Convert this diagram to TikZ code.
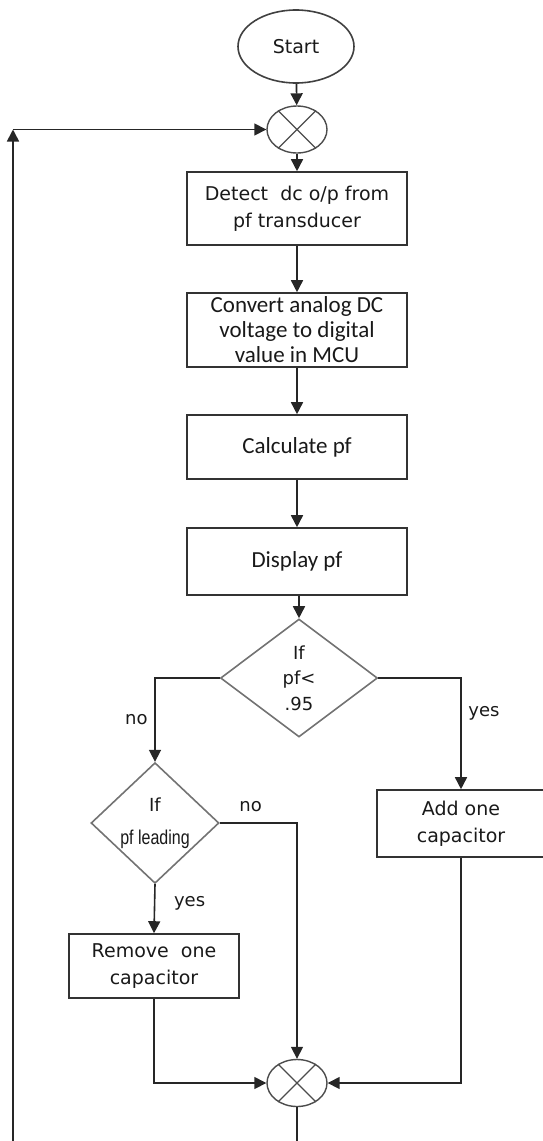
\documentclass[tikz,border=0pt]{standalone}
\usepackage{fontspec}
\setmainfont{DejaVu Sans}
\newfontfamily\calfont{Carlito}
\newfontfamily\narrowfont[FakeStretch=0.8]{Liberation Sans}
\usepackage{tikz}
\usetikzlibrary{positioning, arrows.meta, shapes.geometric, calc}

\begin{document}
\begin{tikzpicture}[
    x=0.5pt, y=-0.5pt,
    box/.style={draw=black!80, line width=0.8pt, minimum width=110pt, align=center,
        text=black!90, inner sep=1pt, font=\fontsize{9.5}{13.5}\selectfont},
    calbox/.style={box, font=\calfont\fontsize{11.5}{12.5}\selectfont},
    decision/.style={diamond, draw=black!55, line width=0.8pt, inner sep=0pt, align=center,
        text=black!90, font=\fontsize{9}{12.75}\selectfont},
    terminal/.style={ellipse, draw=black!75, line width=0.8pt, inner sep=0pt,
        text=black!90, font=\fontsize{9.5}{11}\selectfont},
    junction/.style={ellipse, draw=black!70, line width=0.7pt, minimum width=30pt,
        minimum height=23.5pt, inner sep=0pt},
    arr/.style={-{Triangle[length=6pt,width=6pt]}, line width=0.8pt, black!85},
    lbl/.style={font=\fontsize{9}{11}\selectfont, text=black!90},
]
\useasboundingbox (0,0) rectangle (542,1141);

% main column
\node[terminal, minimum width=58pt, minimum height=36.5pt] (start) at (296,46.5) {Start};
\node[junction] (sum1) at (297,129.5) {};
\node[box, minimum height=36.5pt] (detect) at (297,208.5) {Detect\ \ dc o/p from\\pf transducer};
\node[calbox, minimum height=37pt] (convert) at (297,330) {Convert analog DC\\voltage to digital\\value in MCU};
\node[calbox, minimum height=32pt] (calc) at (297,447) {Calculate pf};
\node[calbox, minimum height=33.5pt] (display) at (297,561.5) {Display pf};

% decisions
\node[decision, minimum width=78.5pt, minimum height=59pt] (pfcheck) at (299,678) {If\\pf<\\.95};
\node[decision, minimum width=64pt, minimum height=59pt] (leadcheck) at (155,823)
    {If\\[4pt]{\narrowfont\fontsize{10}{11}\selectfont pf leading}};

% actions
\node[box, minimum width=84pt, minimum height=33.5pt] (addcap) at (461,823.5) {Add one\\capacitor};
\node[box, minimum width=85pt, minimum height=32pt] (remcap) at (154,966) {Remove\ \ one\\capacitor};
\node[junction] (sum2) at (297,1083) {};

% crosses in the junctions
\foreach \j in {sum1, sum2} {
    \draw[black!70, line width=0.6pt] (\j.45) -- (\j.225) (\j.135) -- (\j.315);
}

\coordinate (loopb) at (297,1170);
\coordinate (loopt) at (13,129.5);

% connectors
\draw[arr] (start) -- (sum1);
\draw[arr] (sum1) -- (detect);
\draw[arr] (detect) -- (convert);
\draw[arr] (convert) -- (calc);
\draw[arr] (calc) -- (display);
\draw[arr] (display.south -| pfcheck.north) -- (pfcheck.north);
\draw[arr] (pfcheck.west) -| node[lbl, pos=0.75, left] {no} (leadcheck.north);
\draw[arr] (pfcheck.east) -| node[lbl, pos=0.66, right] {yes} (addcap.north);
\draw[arr] (leadcheck.east) -| node[lbl, pos=0.2, above=2pt] {no} (sum2.north);
\draw[arr] (leadcheck.south) -- node[lbl, pos=0.4, right=6pt] {yes} (remcap.north);
\draw[arr] (remcap.south) |- (sum2.west);
\draw[arr] (addcap.south) |- (sum2.east);
\draw[arr] (sum2.south) -- (loopb) -| (loopt);
\draw[arr] (loopt) -- (sum1.west);

\end{tikzpicture}
\end{document}
